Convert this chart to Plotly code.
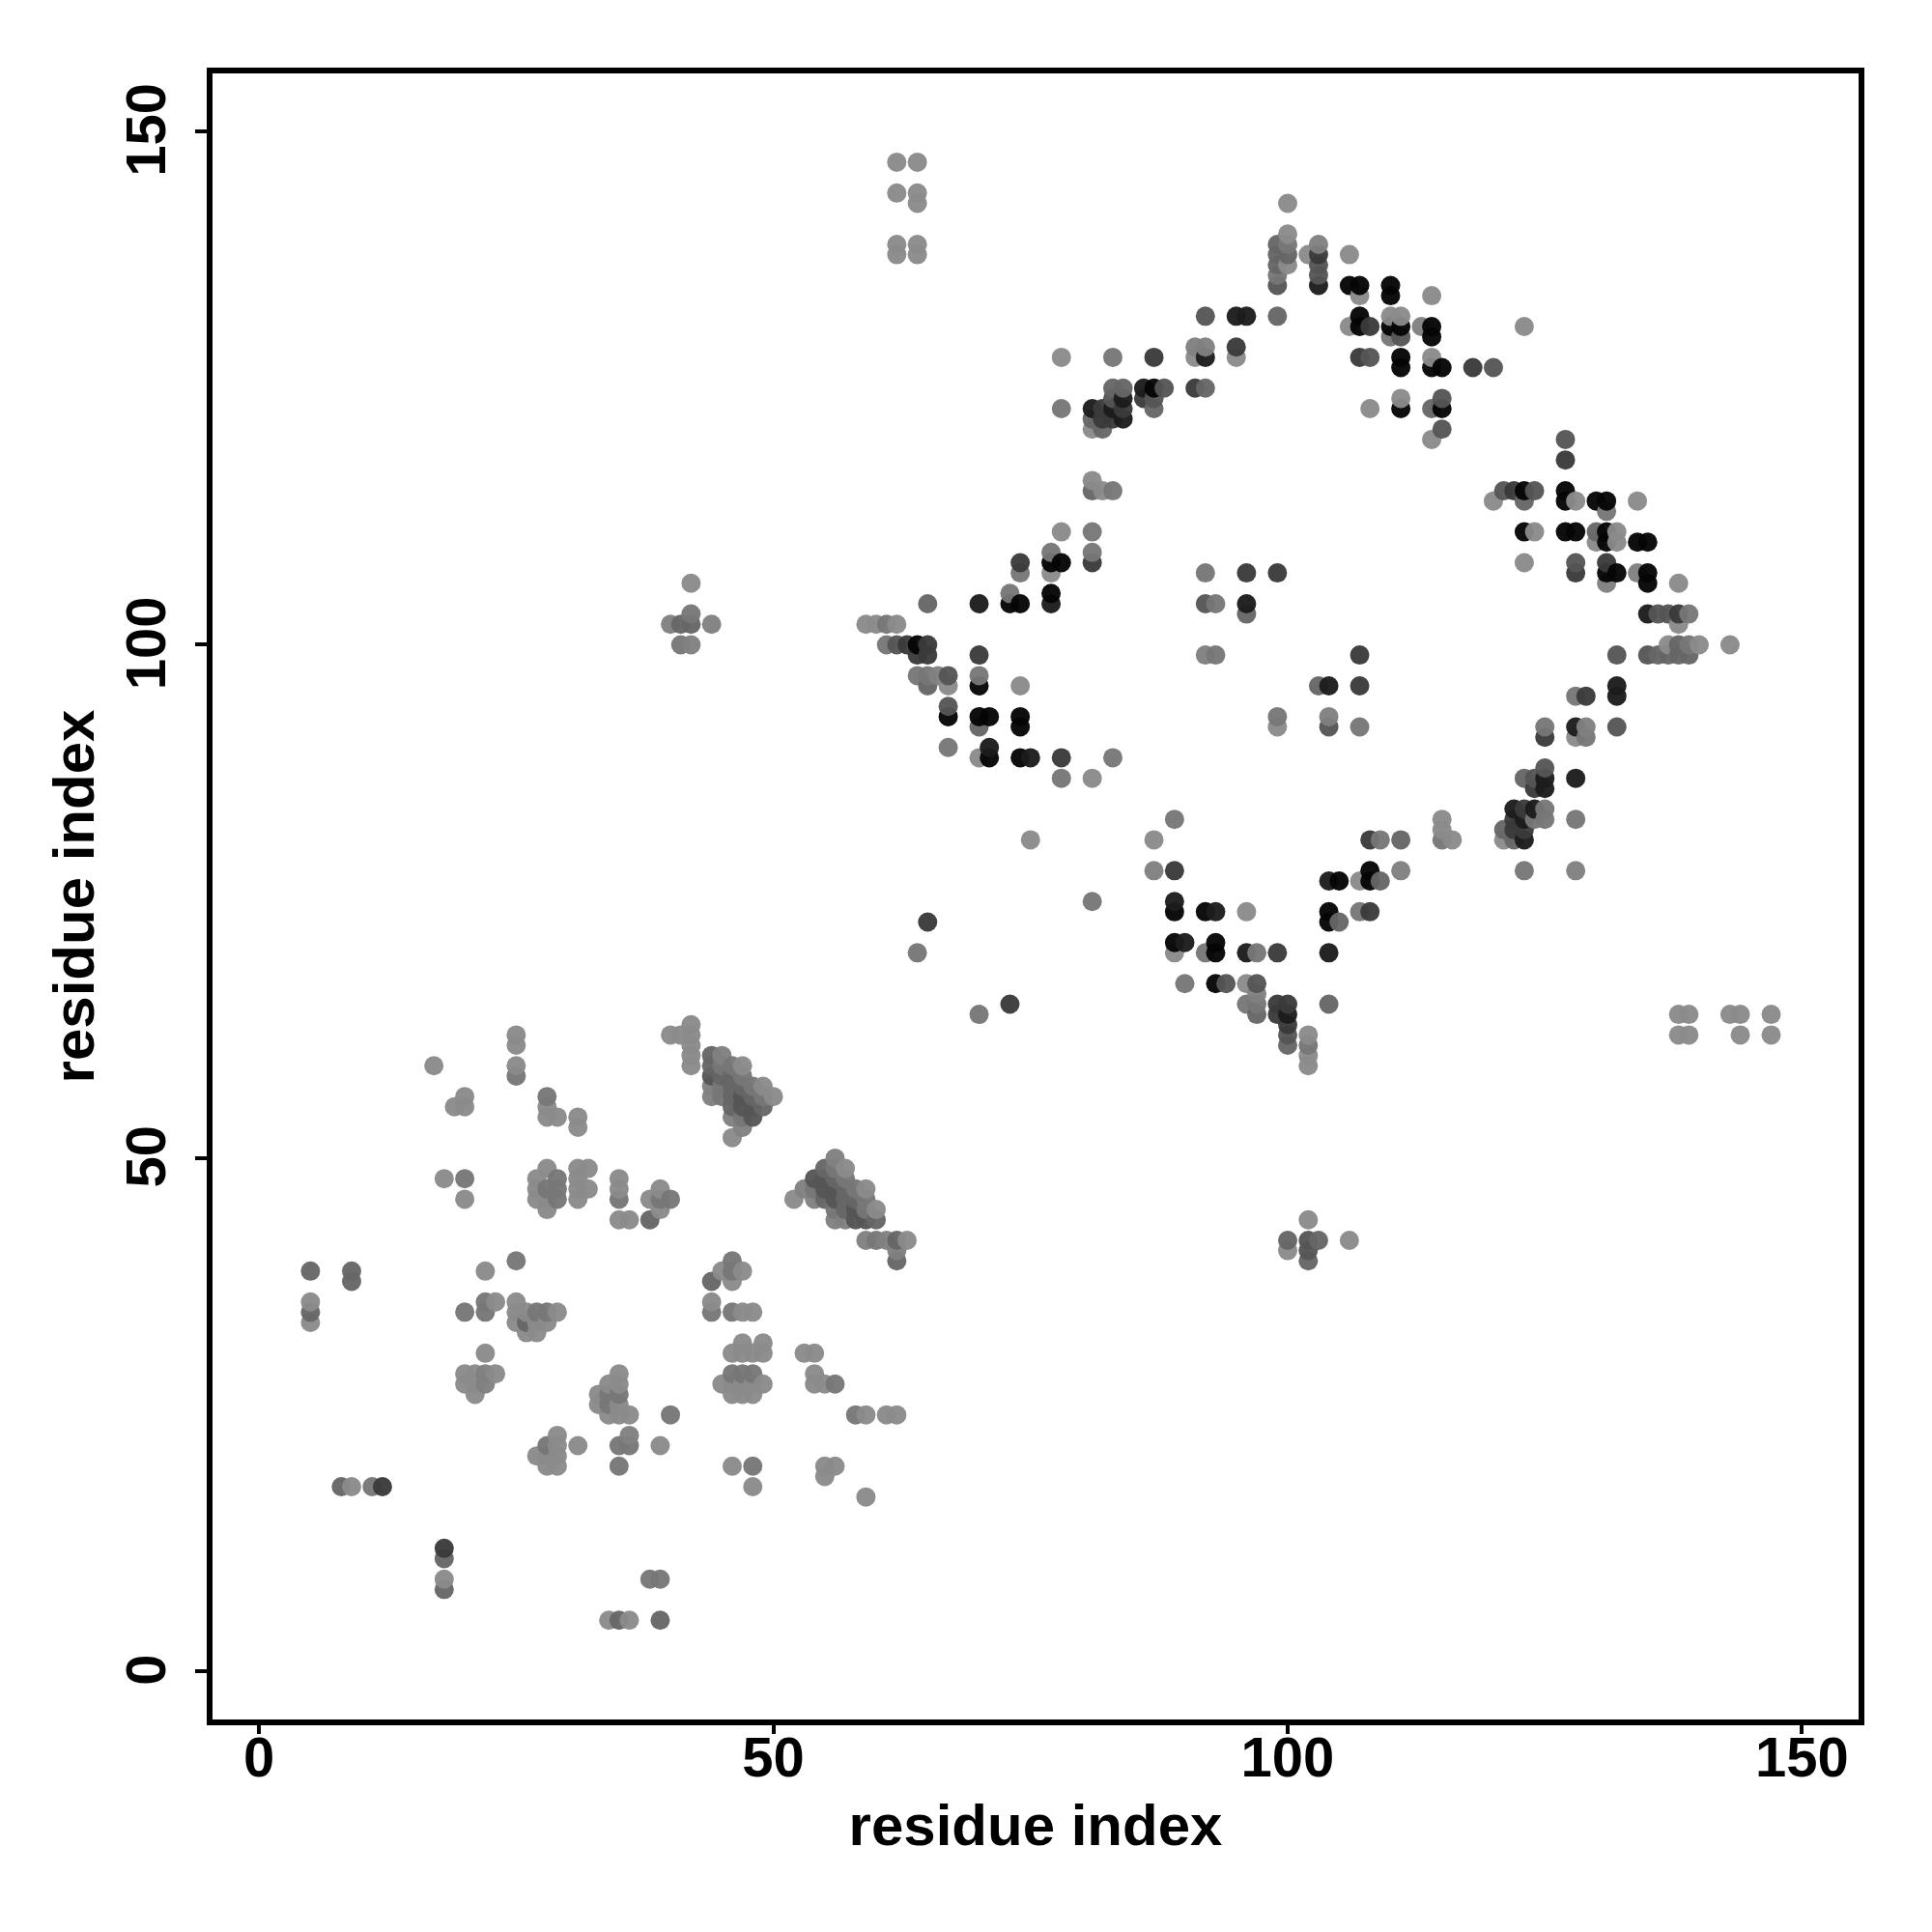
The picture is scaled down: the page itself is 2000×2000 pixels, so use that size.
import plotly.graph_objects as go

# contact pairs (residue x, residue y), one list per grey level of the reference
shade_05 = [(77,108),(78,108),(73,104),(74,104),(77,105),(67,93),(70,93),(71,93),(74,93),(74,92),(71,89),(74,89),(70,96),(64,100),
 (106,135),(107,135),(110,135),(110,134),(107,132),(107,131),(110,131),(111,131),(114,131),(114,130),(111,128),(111,127),(114,127),(115,127),(111,123),(115,123),(123,115),(127,115),(127,114),
 (87,125),(130,114),(131,114),(123,111),(127,111),(128,111),(131,111),(131,110),(134,110),(135,110),(131,107),(132,107),(135,107),(135,106),
 (89,74),(92,74),(89,71),(93,71),(93,70),(93,67),(104,74),(104,73),(105,77),(108,78),(108,77)]
shade_1c = [(77,104),(70,104),(71,90),(75,89),(95,132),(96,132),(103,135),(92,128),(86,125),(81,123),(84,124),(83,123),(84,122),(135,103),(132,96),(132,95),(128,92),(128,87),(125,87),(125,86),
 (122,84),(124,84),(123,83),(123,81),(89,75),(93,74),(90,71),(96,70),(100,64),(104,70),(104,77),(96,104),(104,96)]
shade_38 = [(74,108),(81,108),(65,100),(63,100),(64,99),(65,99),(70,99),(78,89),(65,73),(73,65),(95,129),(103,138),(87,128),(86,124),(91,125),(82,123),(84,123),(82,122),(83,122),(107,128),(108,131),
 (118,127),(122,115),(127,118),(128,107),(131,108),(138,103),(129,95),(125,91),(124,86),(123,84),(122,83),(122,82),(123,82),(89,78),(99,70),(99,65),(100,65),(99,64),(100,63),(108,74),(108,81),
 (96,107),(99,107),(107,99),(107,96),(12,18),(18,12)]
shade_55 = [(62,100),(67,97),(67,94),(92,132),(99,135),(103,137),(103,136),(88,125),(83,124),(87,124),(108,128),(111,130),(115,124),(115,121),(120,127),(127,120),(121,115),(124,115),(128,108),(136,103),(137,103),
 (135,99),(132,99),(132,92),(125,88),(124,87),(94,67),(97,67),(100,62),(92,104),(104,92),(102,42),(102,41),
 (44,58),(47,56),(47,55),(48,55),(48,54),(54,48),(55,48),(55,47),(56,47),(56,46),(58,45),(58,44),(59,44)]
shade_66 = [(65,104),(65,96),(70,92),(99,139),(99,138),(100,138),(99,137),(99,132),(83,125),(84,125),(87,123),(92,125),(81,122),(82,121),(81,115),(123,114),(114,123),(130,111),(138,100),(137,99),(136,99),(138,99),
 (139,99),(121,82),(122,81),(123,87),(105,73),(109,77),(97,64),(100,61),(104,65),(111,81),(103,96),(96,103),(100,42),(103,42),(102,40),(41,102),(42,102),
 (5,39),(9,39),(9,38),(5,35),(26,34),(8,18),(18,11),(18,8),(39,5),(35,5),(44,38),(38,44),
 (44,60),(44,59),(45,58),(46,58),(46,57),(47,57),(46,56),(48,56),(46,55),(49,55),(55,49),(56,48),(57,47),(55,46),(57,46),(58,46),(57,45),(60,44),(62,42),(62,40)]
shade_77 = [(81,111),(77,109),(81,109),(74,107),(73,105),(61,102),(61,100),(64,97),(65,97),(70,97),(67,90),(83,89),(78,87),(99,136),(100,139),(83,128),(78,123),(83,115),(110,130),(131,113),(139,103),(125,92),(129,91),
 (139,100),(128,95),(125,84),(125,83),(124,83),(128,83),(115,81),(123,78),(89,83),(92,70),(90,67),(97,70),(96,65),(97,65),(102,61),(107,74),(109,81),(92,107),(93,104),(93,99),(99,93),(107,92),(81,75),(64,70),(70,64),(42,103),(41,100),
 (25,40),(22,36),(22,35),(20,35),(25,58),(28,56),(20,48),(28,47),(29,48),(29,47),(29,46),(27,35),(28,35),(11,18),(38,9),(39,9),(35,46),(44,35),(46,35),(40,46),(39,46),(46,29),(47,29),(48,29),(56,28),(58,25),(35,27),(34,27),(34,26),(28,22),(36,22),(35,22),(35,20),(48,20),(40,25),(46,40),(46,39),
 (45,59),(46,59),(47,58),(45,57),(48,57),(45,56),(49,56),(47,54),(56,49),(57,48),(54,47),(58,47),(59,46),(56,45),(59,45),(60,42)]
shade_82 = [(66,97),(87,78),(92,129),(92,99),(104,93),(111,78),(128,78),(113,131),(134,107),(131,106),(103,139),(91,129),(97,66),(129,92),(22,28),(22,29),(36,23),(40,102),(44,102),(42,100),
 (45,60),(44,57),(44,56),(46,54),(47,53),(56,50),(53,47),(54,46),(56,44),(57,44),(59,42),(61,42),(62,41)]
shade_8c = [(100,143),(100,140),(100,137),(102,138),(106,138),(107,134),(114,134),(106,131),(91,128),(95,128),(78,128),(108,123),(81,121),(81,116),(82,115),(110,132),(111,132),(123,131),(114,128),(111,124),(114,120),(120,114),(128,114),(134,114),
 (124,111),(132,111),(130,110),(132,110),(123,108),(138,106),(138,102),(137,100),(140,100),(143,100),(128,91),(115,83),(115,82),(116,81),(121,81),(87,81),(89,70),(96,74),(96,67),(107,77),(102,62),(102,60),(102,59),(74,96),(99,92),(75,81),
 (78,111),(77,107),(59,102),(60,102),(62,102),(67,96),(70,89),(81,87),(100,41),(102,44),(106,42),(42,106),
 (62,147),(64,147),(62,144),(64,144),(64,143),(62,139),(64,139),(62,138),(64,138),(138,64),(139,64),(143,64),(144,64),(147,64),(138,62),(139,62),(144,62),(147,62),
 (25,62),(25,61),(17,59),(25,59),(20,56),(19,55),(20,55),(28,55),(28,54),(29,54),(31,54),(31,53),(18,48),(20,46),(28,49),(27,48),(27,47),(27,46),(28,46),(28,45),(31,49),(32,49),(31,48),(31,47),(32,47),(31,46),(5,36),(5,34),
 (22,39),(23,36),(25,36),(25,35),(25,34),(26,35),(29,35),(27,34),(28,34),(26,33),(27,33),(22,31),(20,29),(21,29),(23,29),(20,28),(21,28),(21,27),(35,29),(34,28),(35,28),(33,27),(33,26),(35,26),(34,25),(35,25),(36,25),
 (29,23),(29,22),(31,22),(27,21),(28,21),(29,21),(28,20),(29,20),(9,18),(18,9),(34,5),(36,5),(45,39),(47,39),(46,38),(44,36),(47,35),(48,35),(47,32),(49,32),(46,31),(47,31),(48,31),(49,31),(53,31),(54,31),
 (54,29),(45,28),(46,28),(47,28),(48,28),(49,28),(54,28),(55,28),(46,27),(47,27),(48,27),(59,25),(61,25),(62,25),(39,22),(46,20),(48,18),(55,20),(56,20),(55,19),(59,17),
 (42,63),(40,62),(41,62),(42,62),(42,61),(42,60),(42,59),(47,59),(49,57),(50,56),(46,52),(57,49),(59,47),(52,46),(60,45),(63,42),
 (35,48),(35,47),(35,44),(36,44),(39,47),(38,46),(39,45)]

shades = {"#050505": shade_05, "#1c1c1c": shade_1c, "#3a3a3a": shade_38, "#555555": shade_55,
          "#666666": shade_66, "#777777": shade_77, "#808080": shade_82, "#8a8a8a": shade_8c}

points = sorted((x, y, c) for c, pts in shades.items() for x, y in pts)
residue_x = [p[0] for p in points]
residue_y = [p[1] for p in points]
colors = [p[2] for p in points]
tick_values = [0, 50, 100, 150]

fig = go.Figure(go.Scatter(x=residue_x, y=residue_y, mode="markers",
                           marker=dict(size=20, color=colors, line=dict(width=0), opacity=0.96),
                           cliponaxis=True, showlegend=False))
tick_font = dict(family="Liberation Sans", size=58, color="black", weight="bold")
title_font = dict(family="Liberation Sans", size=60, color="black", weight="bold")
axis = dict(showgrid=False, zeroline=False, showline=True, mirror=True, linecolor="black", linewidth=6,
            ticks="outside", tickwidth=4, tickcolor="black", tickvals=tick_values,
            tickfont=tick_font, title_font=title_font)
fig.update_layout(width=2000, height=2000, margin=dict(l=220, r=76, t=76, b=220),
                  paper_bgcolor="white", plot_bgcolor="white")
fig.update_xaxes(axis, ticklen=9, range=[-4.52, 155.5], title_text="<b>residue index</b>", title_standoff=20,
                 tickangle=0, ticklabelstandoff=-26)
fig.update_yaxes(axis, ticklen=12, range=[-4.67, 155.65], title_text="<b>residue index</b>", title_standoff=3,
                 tickangle=-90, ticklabelstandoff=8, ticklabelshift=7)
fig.write_html("out.html", post_script="document.body.style.margin='0';", config={"displayModeBar": False})
